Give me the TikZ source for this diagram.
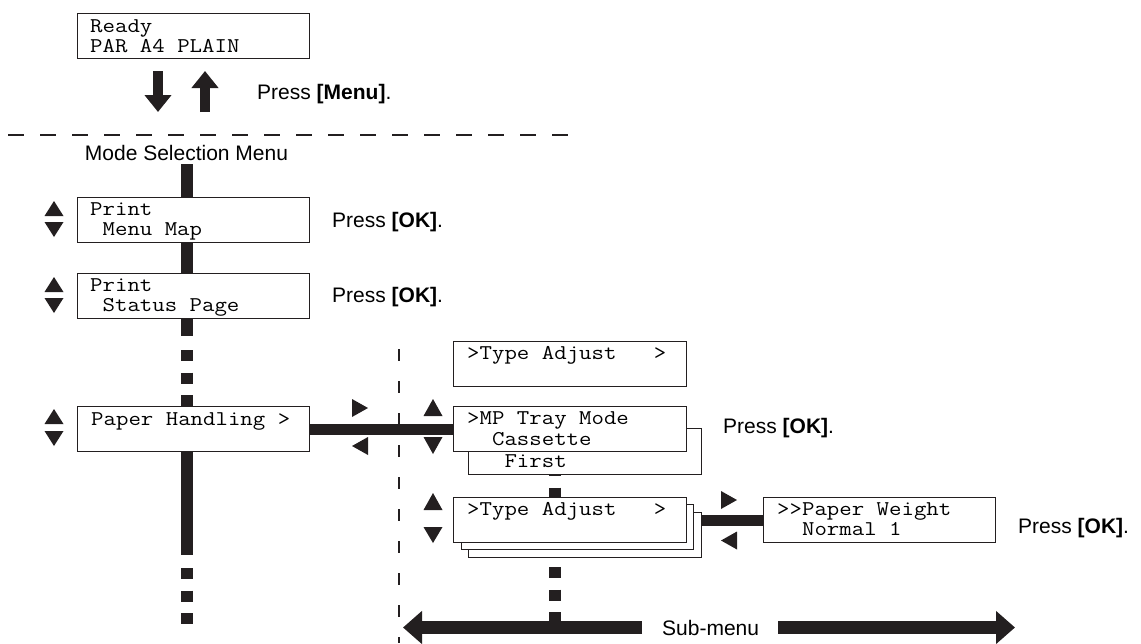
\documentclass[tikz,border=0pt]{standalone}
\usepackage{fontspec}
\setmainfont{Liberation Sans}
\usepackage{graphicx}
\usetikzlibrary{arrows.meta}
\pgfdeclarelayer{bg}
\pgfsetlayers{bg,main}
\definecolor{ink}{HTML}{231F20}
\newcommand\lcd[1]{\scalebox{1.15}[1]{\fontsize{21}{25}\selectfont\ttfamily #1}}
\newcommand\triup[3]{\fill[ink] ({#1-9.5},#3) -- ({#1+9.5},#3) -- (#1,#2) -- cycle;}
\newcommand\tridn[3]{\fill[ink] ({#1-9.5},#2) -- ({#1+9.5},#2) -- (#1,#3) -- cycle;}
\newcommand\trirt[3]{\fill[ink] (#1,{#3-9}) -- (#1,{#3+9}) -- (#2,#3) -- cycle;}
\newcommand\trilt[3]{\fill[ink] (#2,{#3-9}) -- (#2,{#3+9}) -- (#1,#3) -- cycle;}
\tikzset{
  lcdbox/.style={draw=ink, line width=1.3pt, fill=white, anchor=north west, inner sep=0pt,
                 minimum width=232pt, minimum height=45pt},
  lcdtext/.style={anchor=base west, inner sep=0pt},
  presslabel/.style={anchor=base west, inner sep=0pt, font=\fontsize{21}{25}\selectfont},
  vbar/.style={line width=12pt, ink},
  hbar/.style={line width=11pt, ink},
  dots/.style={line width=12pt, ink, dash pattern=on 11pt off 11.5pt},
  sepline/.style={line width=2pt, ink, dash pattern=on 16pt off 16pt},
  vsepline/.style={line width=2pt, ink, dash pattern=on 12pt off 20pt},
  bigarrow/.style={line width=10pt, ink, -{Triangle[length=17pt,width=26pt]}},
  subarrow/.style={line width=13pt, ink, -{Triangle[length=19pt,width=32pt]}},
}
\begin{document}
\begin{tikzpicture}[x=1pt,y=-1pt]
\useasboundingbox (0,0) rectangle (1141,643);

% ---- Ready
\node[lcdbox] (ready) at (77,13) {};
\node[lcdtext] (readyA) at (90,32) {\lcd{Ready}};
\node[lcdtext] (readyB) at (90,52) {\lcd{PAR~A4~PLAIN}};
\coordinate (dnA) at (158,71); \coordinate (dnB) at (158,112);
\coordinate (upA) at (205,112); \coordinate (upB) at (205,71);
\draw[bigarrow] (dnA) -- (dnB);
\draw[bigarrow] (upA) -- (upB);
\node[presslabel] (pmenu) at (257,99) {Press \textbf{[Menu]}.};

\coordinate (sepA) at (8,135); \coordinate (sepB) at (568,135);
\draw[sepline] (sepA) -- (sepB);

\node[presslabel, anchor=base] (mode) at (186.5,160) {Mode Selection Menu};

% ---- left column
\node[lcdbox] (pm) at (77,197) {};
\node[lcdtext] (pmA) at (90,215) {\lcd{Print}};
\node[lcdtext] (pmB) at (90,235) {\lcd{~Menu~Map}};
\node[presslabel] (okA) at (332,227) {Press \textbf{[OK]}.};

\node[lcdbox] (st) at (77,273) {};
\node[lcdtext] (stA) at (90,291) {\lcd{Print}};
\node[lcdtext] (stB) at (90,311) {\lcd{~Status~Page}};
\node[presslabel] (okB) at (332,302) {Press \textbf{[OK]}.};

\node[lcdbox] (ph) at (77,406) {};
\node[lcdtext] (phA) at (91,425) {\lcd{Paper~Handling~>}};

\triup{54}{201}{216} \tridn{54}{222}{237}
\triup{54}{277}{292} \tridn{54}{298}{313}
\triup{54}{409}{424} \tridn{54}{431}{446}

% ---- sub-menu column
\node[lcdbox, minimum width=233pt] (tat) at (453,341) {};
\node[lcdtext] (tatA) at (467,359) {\lcd{>Type~Adjust~~~>}};

\node[lcdbox, minimum width=233pt, minimum height=46pt] (mpb) at (468,428) {};
\node[lcdbox, minimum width=233pt] (mp) at (453,406) {};
\node[lcdtext] (mpA) at (467,424) {\lcd{>MP~Tray~Mode}};
\node[lcdtext] (mpB) at (467,445) {\lcd{~~Cassette}};
\node[lcdtext] (mpC) at (467,467) {\lcd{~~~First}};
\node[presslabel] (okC) at (723,433) {Press \textbf{[OK]}.};

\node[lcdbox, minimum width=233pt] (ta3) at (468,512) {};
\node[lcdbox, minimum width=232pt] (ta2) at (461,504) {};
\node[lcdbox, minimum width=233pt] (ta) at (453,497) {};
\node[lcdtext] (taA) at (467,515) {\lcd{>Type~Adjust~~~>}};

\node[lcdbox] (pw) at (763,497) {};
\node[lcdtext] (pwA) at (777,515) {\lcd{>{}>Paper~Weight}};
\node[lcdtext] (pwB) at (777,535) {\lcd{~~Normal~1}};
\node[presslabel] (okD) at (1018,533) {Press \textbf{[OK]}.};

\triup{433}{399}{416} \tridn{433}{437}{454}
\triup{433}{493}{510} \tridn{433}{527}{543}
\trirt{352}{368}{408} \trilt{352}{368}{446}
\trirt{721}{737}{500} \trilt{721}{737}{540.5}

\node[presslabel] (sub) at (662,635) {Sub-menu};
\coordinate (sLt) at (403,0);
\coordinate (sRt) at (1015,0);
\draw[subarrow] ([xshift=-20pt]sub.west) -- (sub.west -| sLt);
\draw[subarrow] ([xshift=19pt]sub.east) -- (sub.east -| sRt);

% ---- connectors (behind)
\coordinate (d1) at (186.5,350);
\coordinate (d2) at (186.5,568);
\coordinate (d3) at (186.5,624);
\coordinate (vA) at (399,349);
\coordinate (vB) at (399,643);
\coordinate (c1) at (555,465);
\coordinate (c2) at (555,567);
\coordinate (c3) at (555,622);
\begin{pgfonlayer}{bg}
  \draw[vbar] ([yshift=-4pt]mode.south) -- (mode.south |- pm.north);
  \draw[vbar] (pm.south -| mode) -- (st.north -| mode);
  \draw[vbar] (st.south -| mode) -- ++(0,17);
  \draw[dots] (d1) -- (ph.north -| d1);
  \draw[vbar] (ph.south -| mode) -- ++(0,103);
  \draw[dots] (d2) -- (d3);
  \draw[vsepline] (vA) -- (vB);
  \draw[hbar] (ph.east) -- (mp.west);
  \draw[dots] (c1) -- (c1 |- ta.north);
  \draw[dots] (c2) -- (c3);
  \draw[hbar] (ta3.east |- ta.east) -- (pw.west);
\end{pgfonlayer}
\end{tikzpicture}
\end{document}
